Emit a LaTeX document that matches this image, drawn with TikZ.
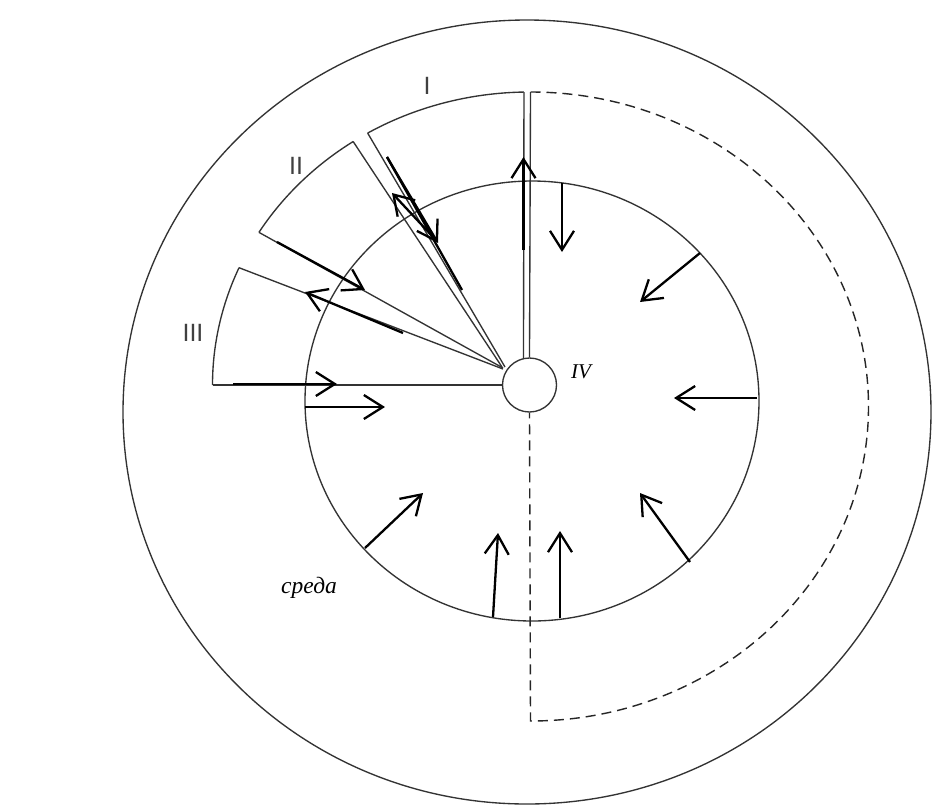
\documentclass[tikz,border=0pt]{standalone}
\usepackage{fontspec}
\setmainfont{Liberation Serif}
\newfontfamily\labelsans{Liberation Sans}
\usetikzlibrary{arrows.meta,calc}
\begin{document}
\begin{tikzpicture}[x=1pt,y=-1pt,
  thinline/.style={draw=black!80, line width=1.35pt},
  thickline/.style={draw=black, line width=2.3pt},
  thickarrow/.style={draw=black, line width=2.3pt, -{Straight Barb[length=19pt,width=24pt]}},
  dashline/.style={draw=black!85, line width=1.4pt, dash pattern=on 10pt off 6pt},
  romanlabel/.style={text=black!75, inner sep=0pt, font=\labelsans\fontsize{25}{28}\selectfont},
  itlabel/.style={inner sep=0pt, anchor=base west}]
\useasboundingbox (0,0) rectangle (932,807);
\fill[white] (0,0) rectangle (932,807);

% big circles
\draw[thinline] (527,412) ellipse [x radius=404, y radius=392];
\draw[thinline] (532,401) ellipse [x radius=227, y radius=220];

% hub
\coordinate (C) at (529.5,385);
\node[circle, draw=black!80, line width=1.35pt, minimum size=54pt, inner sep=0pt, fill=white] (hub) at (C) {};

% sector arcs (one ellipse around the hub)
\draw[thinline] (C) ++({317*cos(-91)},{293*sin(-91)}) coordinate (I1)
  arc[start angle=-91, end angle=-120.7, x radius=317, y radius=293] coordinate (I2);
\draw[thinline] (C) ++({317*cos(-123.8)},{293*sin(-123.8)}) coordinate (II1)
  arc[start angle=-123.8, end angle=-148.6, x radius=317, y radius=293] coordinate (II2);
\draw[thinline] (C) ++({317*cos(-156.4)},{293*sin(-156.4)}) coordinate (III1)
  arc[start angle=-156.4, end angle=-180, x radius=317, y radius=293] coordinate (III2);

% convergence points on the hub
\coordinate (pI) at (505,367);
\coordinate (pII) at (502,367);
\coordinate (pIIb) at (503,368);
\coordinate (pIII) at (503,369);
\coordinate (pI1) at (523.5,359);

% sector edges
\draw[thinline] (I1) -- (pI1);
\draw[thinline] (I2) -- (pI);
\draw[thinline] (II1) -- (pII);
\draw[thinline] (II2) -- (pIIb);
\draw[thinline] (III1) -- (pIII);
\draw[thinline] (III2) -- (hub.west);

% sector IV (dashed)
\coordinate (D0) at (530.5,92);
\draw[thinline] (D0) -- (hub.north);
\draw[dashline] (D0) arc[start angle=-90, end angle=90, x radius=338, y radius=314.5] coordinate (D1) -- (hub.south);

% arrows
\coordinate (a1s) at (523.5,250); \coordinate (a1e) at (523.5,157);
\coordinate (a2s) at (562,183);   \coordinate (a2e) at (562,252);
\coordinate (a3s) at (700,253);   \coordinate (a3e) at (640,302);
\coordinate (a4s) at (757,398);   \coordinate (a4e) at (674,398);
\coordinate (a5s) at (690,562);   \coordinate (a5e) at (640,493);
\coordinate (a6s) at (560,618);   \coordinate (a6e) at (560,531);
\coordinate (a7s) at (493,617);   \coordinate (a7e) at (498,533);
\coordinate (a8s) at (365,548);   \coordinate (a8e) at (423,493);
\coordinate (a9s) at (305,407);   \coordinate (a9e) at (385,407);
\coordinate (a10s) at (233,384);  \coordinate (a10e) at (337,384);
\coordinate (a11s) at (403,333);  \coordinate (a11e) at (305,292);
\coordinate (a12s) at (277,242);  \coordinate (a12e) at (365,290);
\coordinate (a13s) at (434,238);  \coordinate (a13e) at (392,193);
\coordinate (a14s) at (387,157);  \coordinate (a14e) at (438,243);
\coordinate (l14e) at (462,290);

\foreach \i in {1,...,14} \draw[thickarrow] (a\i s) -- (a\i e);
\draw[thickline] (a14s) -- (l14e);

% labels
\node[romanlabel] (lI) at (427,86) {I};
\node[romanlabel] (lII) at (296,166) {II};
\node[romanlabel] (lIII) at (193,333) {III};
\node[itlabel, font=\itshape\fontsize{21}{24}\selectfont] (lIV) at (571,378) {IV};
\node[itlabel, font=\itshape\fontsize{23.5}{26}\selectfont] (sreda) at (281,593) {среда};
\end{tikzpicture}
\end{document}
